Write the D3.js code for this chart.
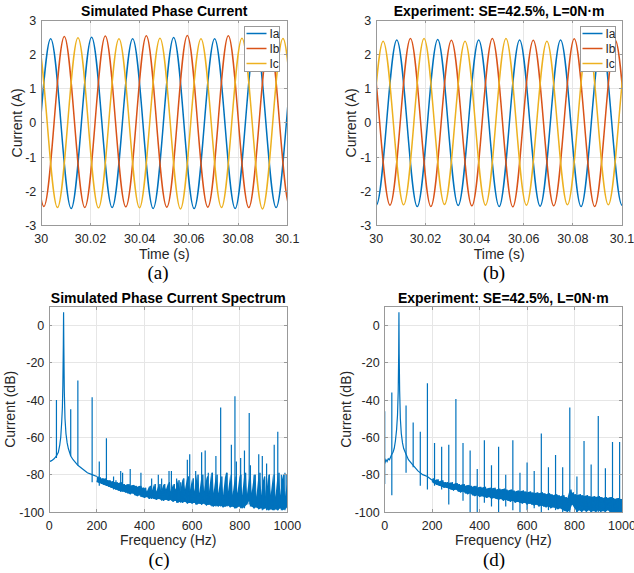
<!DOCTYPE html>
<html><head><meta charset="utf-8">
<script src="https://cdn.jsdelivr.net/npm/d3@7"></script>
<style>
body{margin:0;background:#fff}
svg{display:block}
</style>
</head><body>
<svg id="fig" width="634" height="573"></svg>
<script>
// ---------------- DATA ----------------
const timeTicks = [30, 30.02, 30.04, 30.06, 30.08, 30.1];
const currentTicks = [-3, -2, -1, 0, 1, 2, 3];
const freqTicks = [0, 200, 400, 600, 800, 1000];
const dbTicks = [-100, -80, -60, -40, -20, 0];
const seriesNames = ["Ia", "Ib", "Ic"];

// (a) simulated phase currents: zero crossings and extrema
const iaA_t = [29.99963,30.00380,30.00796,30.01213,30.01630,30.02046,30.02463,30.02880,30.03296,30.03713,30.04130,30.04546,30.04963,30.05380,30.05796,30.06213,30.06630,30.07046,30.07463,30.07880,30.08296,30.08713,30.09130,30.09546,30.09963,30.10380,30.10796];
const iaA_v = [0,2.45,0,-2.50,0,2.50,0,-2.47,0,2.45,0,-2.50,0,2.49,0,-2.50,0,2.45,0,-2.50,0,2.48,0,-2.47,0,2.46,0];
const ibA_t = [29.99685,30.00102,30.00519,30.00935,30.01352,30.01769,30.02185,30.02602,30.03019,30.03435,30.03852,30.04269,30.04685,30.05102,30.05519,30.05935,30.06352,30.06769,30.07185,30.07602,30.08019,30.08435,30.08852,30.09269,30.09685,30.10102,30.10519];
const ibA_v = [0,-2.44,0,2.52,0,-2.47,0,2.53,0,-2.45,0,2.54,0,-2.46,0,2.55,0,-2.46,0,2.54,0,-2.47,0,2.50,0,-2.45,0];
const icA_t = [29.99407,29.99824,30.00241,30.00657,30.01074,30.01491,30.01907,30.02324,30.02741,30.03157,30.03574,30.03991,30.04407,30.04824,30.05241,30.05657,30.06074,30.06491,30.06907,30.07324,30.07741,30.08157,30.08574,30.08991,30.09407,30.09824,30.10241];
const icA_v = [0,2.47,0,-2.47,0,2.48,0,-2.48,0,2.45,0,-2.48,0,2.47,0,-2.51,0,2.45,0,-2.47,0,2.47,0,-2.51,0,2.46,0];

// (b) experimental phase currents
const iaB_t = [29.99583,30.00000,30.00417,30.00833,30.01250,30.01667,30.02083,30.02500,30.02917,30.03333,30.03750,30.04167,30.04583,30.05000,30.05417,30.05833,30.06250,30.06667,30.07083,30.07500,30.07917,30.08333,30.08750,30.09167,30.09583,30.10000,30.10417];
const iaB_v = [0,-2.40,0,2.42,0,-2.44,0,2.43,0,-2.41,0,2.42,0,-2.44,0,2.42,0,-2.43,0,2.42,0,-2.44,0,2.42,0,-2.40,0];
const ibB_t = [29.99306,29.99722,30.00139,30.00556,30.00972,30.01389,30.01806,30.02222,30.02639,30.03056,30.03472,30.03889,30.04306,30.04722,30.05139,30.05556,30.05972,30.06389,30.06806,30.07222,30.07639,30.08056,30.08472,30.08889,30.09306,30.09722,30.10139];
const ibB_v = [0,2.42,0,-2.40,0,2.46,0,-2.44,0,2.41,0,-2.42,0,2.46,0,-2.45,0,2.41,0,-2.42,0,2.45,0,-2.44,0,2.42,0];
const icB_t = [29.99861,30.00278,30.00694,30.01111,30.01528,30.01944,30.02361,30.02778,30.03194,30.03611,30.04028,30.04444,30.04861,30.05278,30.05694,30.06111,30.06528,30.06944,30.07361,30.07778,30.08194,30.08611,30.09028,30.09444,30.09861,30.10278,30.10694];
const icB_v = [0,2.38,0,-2.39,0,2.46,0,-2.38,0,2.38,0,-2.40,0,2.46,0,-2.40,0,2.38,0,-2.39,0,2.45,0,-2.39,0,2.40,0];

// (c) simulated spectrum: fundamental skirt [Hz, dB]
const cSkirt = [[0,-73],[10,-72.5],[20,-71.5],[30,-70],[38,-68],[44,-64],[48,-60],[52,-52],[55,-44],[57,-32],[59,-10],[60,7],[61,-10],[63,-35],[66,-50],[70,-58],[75,-63],[80,-66],[90,-70],[100,-72],[120,-75],[140,-77],[160,-79],[180,-80],[200,-81]];
// noise band, 200..1000 Hz every 10 Hz (lower / upper)
const cBandLow = [-84,-84.5,-85,-85.5,-86,-86.5,-87,-87.5,-88,-88.5,
 -89,-89,-89.5,-90,-90.5,-90,-91,-91.5,-91,-92,
 -92.5,-92,-93,-92.5,-93,-93.5,-93,-93.5,-94,-93.5,
 -94,-93.5,-94.5,-94,-95,-94.5,-95,-94.5,-95.5,-95,
 -95.5,-95,-96,-95.5,-96,-95.5,-96.5,-96,-96.5,-97,
 -96.5,-97,-96.5,-97.5,-97,-96.5,-97.5,-97,-98,-97.5,
 -97,-98,-97.5,-96,-94,-97,-98,-97.5,-98.5,-98,
 -98.5,-98,-99,-98.5,-99,-98.5,-99,-98,-99,-98.5,-97];
const cBandHigh = [-81,-81.5,-82,-82,-83,-83,-83.5,-84,-84,-84.5,
 -84,-85,-85.5,-85,-86,-85.5,-86,-86.5,-86,-87,
 -87,-89,-86,-89,-85,-89,-85,-89,-85,-88,
 -84,-89,-85,-88,-83,-89,-82,-88,-81,-89,
 -82,-89,-80,-90,-80,-89,-81,-90,-79,-90,
 -80,-90,-81,-91,-79,-90,-80,-91,-81,-90,
 -80,-91,-79,-91,-81,-90,-80,-92,-79,-91,
 -81,-92,-80,-91,-80,-92,-79,-91,-80,-92,-84];
// spectral lines [Hz, top dB, bottom dB]
const cSpikes = [[0,-48,-84],[30,-40,-71],[90,-45,-70],[120,-29.5,-75],[180,-38.5,-84],[210,-73,-86],[240,-60.5,-86],[270,-81,-88],[280,-83,-88],[300,-78,-89],[308,-79,-89],[340,-77,-90],[385,-79,-92],[430,-82,-93],[458,-80,-93],[472,-82,-94],[503,-78,-94],[513,-78,-94],[535,-82,-95],[552,-84,-95],[580,-72,-95],[590,-69,-95],[615,-78,-96],[640,-68,-96],[655,-67,-96],[668,-79,-96],[684,-79,-97],[700,-70,-97],[720,-44,-97],[747,-79,-97],[765,-64,-97],[780,-38,-98],[786,-73,-98],[804,-71,-98],[820,-67,-98],[840,-47,-96],[845,-75,-97],[861,-80,-98],[880,-69,-98],[895,-70,-99],[913,-74,-99],[923,-80,-99],[945,-64,-99],[960,-57,-99],[975,-80,-99],[990,-79,-99],[998,-80,-98]];

// (d) experimental spectrum
const dSkirt = [[0,-74],[5,-72],[10,-73],[15,-71.5],[20,-72],[25,-70.5],[30,-69],[35,-68],[40,-66],[45,-62],[50,-56],[54,-48],[57,-35],[59,-15],[60,7],[61,-15],[63,-35],[66,-50],[70,-58],[75,-63],[80,-66],[90,-69],[100,-72],[120,-75],[140,-78],[160,-80],[180,-81],[200,-83]];
const dBandHigh = [-82,-83,-82.5,-83.5,-83,-84,-84,-84.5,-84,-85,
 -84.5,-85,-85.5,-85,-86,-85.5,-86,-86.5,-86,-87,
 -86.5,-87,-86.5,-87.5,-87,-87.5,-87,-88,-87.5,-88,
 -87.5,-88,-88.5,-88,-88.5,-89,-88.5,-89,-88.5,-89,
 -89.5,-89,-89.5,-90,-89.5,-90,-89.5,-90,-90.5,-90,
 -90.5,-91,-90.5,-91,-91.5,-91,-92,-92.5,-88,-89.5,
 -90.5,-91,-90.5,-91,-91.5,-91,-91.5,-92,-91.5,-92,
 -91.5,-92,-92.5,-92,-92.5,-92,-92.5,-93,-92.5,-93,-93];
const dBandLow = [-84,-85,-85.5,-86,-86.5,-87,-87,-87.5,-88,-88.5,
 -88,-89,-89.5,-89,-90,-90.5,-90,-91,-91.5,-91,
 -92,-91.5,-92,-92.5,-92,-93,-92.5,-93,-93.5,-93,
 -94,-93.5,-94,-94.5,-94,-95,-94.5,-95,-95.5,-95,
 -96,-95.5,-96,-96.5,-96,-97,-96.5,-97,-97.5,-97,
 -98,-97.5,-98,-98.5,-98,-99,-99.5,-100,-99,-96,
 -98,-100,-99,-100,-99,-100,-99,-100,-99.5,-100,
 -99,-100,-99.5,-100,-99,-100,-100,-100,-100,-100,-100];
const dSpikes = [[0,-46,-85],[30,-36,-91],[90,-43,-79],[120,-52,-76],[150,-57,-86],[180,-31,-88],[210,-63,-86],[240,-65,-88],[270,-64,-96],[300,-39.5,-87],[330,-63,-94],[360,-67,-100],[390,-77,-100],[420,-61.5,-95],[450,-75,-97],[480,-65,-100],[510,-80,-97],[540,-61.5,-99],[570,-79,-100],[600,-73.5,-99],[630,-78,-98],[660,-58,-100],[690,-76,-99],[720,-69.5,-99],[750,-76,-100],[780,-44,-100],[810,-81,-100],[840,-62,-98],[870,-74.5,-100],[900,-48.5,-100],[930,-76.5,-100],[960,-62.5,-100],[990,-62.5,-100]];

// ---------------- DRAWING ----------------
const svg = d3.select("#fig");
const COLORS = ["#0072BD", "#D95319", "#EDB120"];
const AX = "#999999", TXT = "#262626", GRID = "#e6e6e6";
const SANS = '"Liberation Sans",Arial,Helvetica,sans-serif';
const SERIF = '"Liberation Serif","Times New Roman",serif';
const bandFreq = d3.range(200, 1001, 10);

function txt(sel) { return sel.style("font-family", SANS); }

function makePanel(o) {
  const b = o.box;
  const x = d3.scaleLinear().domain(o.xDomain).range([b.l, b.r]);
  const y = d3.scaleLinear().domain(o.yDomain).range([b.b, b.t]);
  const g = svg.append("g");
  // grid
  g.append("g").selectAll("line").data(o.xTicks).join("line")
    .attr("x1", d => x(d)).attr("x2", d => x(d)).attr("y1", b.t).attr("y2", b.b)
    .attr("stroke", GRID).attr("stroke-width", 1).attr("shape-rendering", "crispEdges");
  g.append("g").selectAll("line").data(o.yTicks).join("line")
    .attr("y1", d => y(d)).attr("y2", d => y(d)).attr("x1", b.l).attr("x2", b.r)
    .attr("stroke", GRID).attr("stroke-width", 1).attr("shape-rendering", "crispEdges");
  svg.append("clipPath").attr("id", o.id).append("rect")
    .attr("x", b.l).attr("y", b.t).attr("width", b.r - b.l).attr("height", b.b - b.t);
  const plot = g.append("g").attr("clip-path", `url(#${o.id})`);
  // frame & ticks
  const fr = svg.append("g").attr("shape-rendering", "crispEdges");
  fr.append("rect").attr("x", b.l).attr("y", b.t).attr("width", b.r - b.l).attr("height", b.b - b.t)
    .attr("fill", "none").attr("stroke", AX).attr("stroke-width", 1);
  const tl = 3;
  o.xTicks.forEach(d => {
    fr.append("line").attr("x1", x(d)).attr("x2", x(d)).attr("y1", b.b).attr("y2", b.b - tl).attr("stroke", AX);
    fr.append("line").attr("x1", x(d)).attr("x2", x(d)).attr("y1", b.t).attr("y2", b.t + tl).attr("stroke", AX);
  });
  o.yTicks.forEach(d => {
    fr.append("line").attr("y1", y(d)).attr("y2", y(d)).attr("x1", b.l).attr("x2", b.l + tl).attr("stroke", AX);
    fr.append("line").attr("y1", y(d)).attr("y2", y(d)).attr("x1", b.r).attr("x2", b.r - tl).attr("stroke", AX);
  });
  // tick labels
  txt(svg.append("g").selectAll("text").data(o.xTicks).join("text"))
    .attr("x", d => x(d)).attr("y", b.b + 17.5).attr("text-anchor", "middle")
    .attr("font-size", 12.5).attr("fill", TXT).text(o.xFmt);
  txt(svg.append("g").selectAll("text").data(o.yTicks).join("text"))
    .attr("x", b.l - 5).attr("y", d => y(d)).attr("dy", "0.36em").attr("text-anchor", "end")
    .attr("font-size", 12.5).attr("fill", TXT).text(d => String(d));
  // labels
  txt(svg.append("text")).attr("x", (b.l + b.r) / 2).attr("y", b.t - 4).attr("text-anchor", "middle")
    .attr("font-size", 14).attr("font-weight", "bold").attr("fill", "#000").text(o.title);
  txt(svg.append("text")).attr("x", (b.l + b.r) / 2).attr("y", b.b + 33).attr("text-anchor", "middle")
    .attr("font-size", 14).attr("fill", TXT).text(o.xLabel);
  txt(svg.append("text")).attr("transform", `translate(${o.yLabelX},${(b.t + b.b) / 2}) rotate(-90)`)
    .attr("text-anchor", "middle").attr("font-size", 14).attr("fill", TXT).text(o.yLabel);
  svg.append("text").style("font-family", SERIF).attr("x", o.letterX).attr("y", b.b + 53.5)
    .attr("text-anchor", "middle").attr("font-size", 19).attr("fill", "#000").text(o.letter);
  return { x, y, plot, b };
}

const timeFmt = d => String(+d.toFixed(2));

function currentPanel(o, series, legendX) {
  const p = makePanel(Object.assign({
    xDomain: [30, 30.1], yDomain: [-3, 3], xTicks: timeTicks, yTicks: currentTicks,
    xFmt: timeFmt, xLabel: "Time (s)", yLabel: "Current (A)"
  }, o));
  const line = d3.line().x(d => p.x(d[0])).y(d => p.y(d[1])).curve(d3.curveNatural);
  series.forEach((s, i) => {
    const pts = s.t.map((t, k) => [t, s.v[k]]);
    p.plot.append("path").attr("d", line(pts)).attr("fill", "none")
      .attr("stroke", COLORS[i]).attr("stroke-width", 1.5);
  });
  // legend
  const lg = svg.append("g").attr("transform", `translate(${legendX},${p.b.t + 6})`);
  lg.append("rect").attr("x", 0.5).attr("y", 0.5).attr("width", 35).attr("height", 44.5)
    .attr("fill", "#fff").attr("stroke", AX).attr("shape-rendering", "crispEdges");
  seriesNames.forEach((n, i) => {
    const yy = 7.5 + i * 15;
    lg.append("line").attr("x1", 2.5).attr("x2", 22.5).attr("y1", yy).attr("y2", yy)
      .attr("stroke", COLORS[i]).attr("stroke-width", 1.5);
    txt(lg.append("text")).attr("x", 25.5).attr("y", yy).attr("dy", "0.36em")
      .attr("font-size", 12).attr("fill", TXT).text(n);
  });
}

function spectrumPanel(o, skirt, low, high, spikes) {
  const p = makePanel(Object.assign({
    xDomain: [0, 1000], yDomain: [-100, 10], xTicks: freqTicks, yTicks: dbTicks,
    xFmt: d => String(d), xLabel: "Frequency (Hz)", yLabel: "Current (dB)"
  }, o));
  const line = d3.line().x(d => p.x(d[0])).y(d => p.y(d[1]));
  const col = COLORS[0];
  // noise band: filled core plus zigzag trace
  const area = d3.area().x((d, i) => p.x(bandFreq[i])).y0(d => p.y(d[0])).y1(d => p.y(d[1]));
  p.plot.append("path").attr("d", area(low.map((v, i) => [v, high[i]])))
    .attr("fill", col).attr("stroke", "none");
  const zig = [];
  bandFreq.forEach((f, i) => { zig.push([f, low[i]]); zig.push([f + 5, high[i]]); });
  p.plot.append("path").attr("d", line(zig)).attr("fill", "none").attr("stroke", col).attr("stroke-width", 1);
  p.plot.append("path").attr("d", line(skirt)).attr("fill", "none").attr("stroke", col).attr("stroke-width", 1.2);
  p.plot.append("g").selectAll("line").data(spikes).join("line")
    .attr("x1", d => p.x(d[0])).attr("x2", d => p.x(d[0]))
    .attr("y1", d => p.y(d[2])).attr("y2", d => p.y(d[1]))
    .attr("stroke", col).attr("stroke-width", 1.2);
}

currentPanel({ id: "cA", box: { l: 41.3, r: 287.3, t: 20, b: 225.7 }, title: "Simulated Phase Current",
  yLabelX: 21.5, letter: "(a)", letterX: 158 },
  [{ t: iaA_t, v: iaA_v }, { t: ibA_t, v: ibA_v }, { t: icA_t, v: icA_v }], 244);
currentPanel({ id: "cB", box: { l: 376.3, r: 622, t: 20, b: 225.7 }, title: "Experiment: SE=42.5%, L=0N\u00b7m",
  yLabelX: 356, letter: "(b)", letterX: 494 },
  [{ t: iaB_t, v: iaB_v }, { t: ibB_t, v: ibB_v }, { t: icB_t, v: icB_v }], 580);
spectrumPanel({ id: "cC", box: { l: 49.3, r: 287.3, t: 306.7, b: 512 }, title: "Simulated Phase Current Spectrum",
  yLabelX: 15, letter: "(c)", letterX: 159 }, cSkirt, cBandLow, cBandHigh, cSpikes);
spectrumPanel({ id: "cD", box: { l: 384.7, r: 622, t: 306.7, b: 512 }, title: "Experiment: SE=42.5%, L=0N\u00b7m",
  yLabelX: 351, letter: "(d)", letterX: 494 }, dSkirt, dBandLow, dBandHigh, dSpikes);
</script>
</body></html>
